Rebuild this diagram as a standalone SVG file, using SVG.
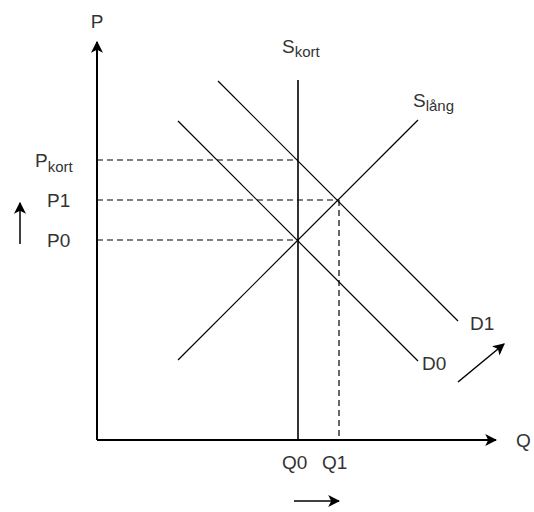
<svg xmlns="http://www.w3.org/2000/svg" width="534" height="512" viewBox="0 0 534 512">
<style>
text{font-family:"Liberation Sans",Arial,sans-serif;font-size:19px;fill:#333}
.sub{font-size:15px}
.axis{stroke:#000;stroke-width:2;fill:none}
.curve{stroke:#000;stroke-width:1.2;fill:none}
.dash{stroke:#000;stroke-width:1.2;fill:none;stroke-dasharray:6 4}
.arr{stroke:#000;stroke-width:1.5;fill:none}
</style>
<defs>
<marker id="ah2" viewBox="0 0 10 10" refX="9" refY="5" markerWidth="12" markerHeight="12" orient="auto" markerUnits="userSpaceOnUse"><path d="M0,0 L10,5 L0,10 L2.5,5 z" fill="#000"/></marker>
</defs>
<g id="connectors">
<line class="dash" x1="97" y1="160" x2="298" y2="160"/>
<line class="dash" x1="97" y1="200" x2="338" y2="200"/>
<line class="dash" x1="97" y1="240" x2="298" y2="240"/>
<line class="dash" x1="339" y1="200" x2="339" y2="440"/>
<line class="curve" x1="298" y1="80" x2="298" y2="440" style="stroke-width:1.6"/>
<line class="curve" x1="178" y1="360" x2="418" y2="120"/>
<line class="curve" x1="178" y1="121" x2="418" y2="361"/>
<line class="curve" x1="218" y1="81" x2="458" y2="321"/>
<line class="axis" x1="97" y1="440" x2="97" y2="42" marker-end="url(#ah2)"/>
<line class="axis" x1="97" y1="440" x2="496" y2="440" marker-end="url(#ah2)"/>
<line class="arr" x1="20" y1="244" x2="20" y2="203" marker-end="url(#ah2)"/>
<line class="arr" x1="458" y1="382" x2="504" y2="344" marker-end="url(#ah2)"/>
<line class="arr" x1="294" y1="501" x2="339" y2="501" marker-end="url(#ah2)"/>
</g>
<g id="label-P"><text x="97" y="28" text-anchor="middle">P</text></g>
<g id="label-Q"><text x="516" y="447">Q</text></g>
<g id="label-Skort"><text x="282" y="53">S<tspan class="sub" dy="4">kort</tspan></text></g>
<g id="label-Slang"><text x="413" y="107">S<tspan class="sub" dy="4">lång</tspan></text></g>
<g id="label-Pkort"><text x="35" y="167">P<tspan class="sub" dy="5">kort</tspan></text></g>
<g id="label-P1"><text x="47" y="207">P1</text></g>
<g id="label-P0"><text x="47" y="247">P0</text></g>
<g id="label-D1"><text x="470" y="330">D1</text></g>
<g id="label-D0"><text x="422" y="370">D0</text></g>
<g id="label-Q0"><text x="282" y="469">Q0</text></g>
<g id="label-Q1"><text x="322" y="469">Q1</text></g>
</svg>
